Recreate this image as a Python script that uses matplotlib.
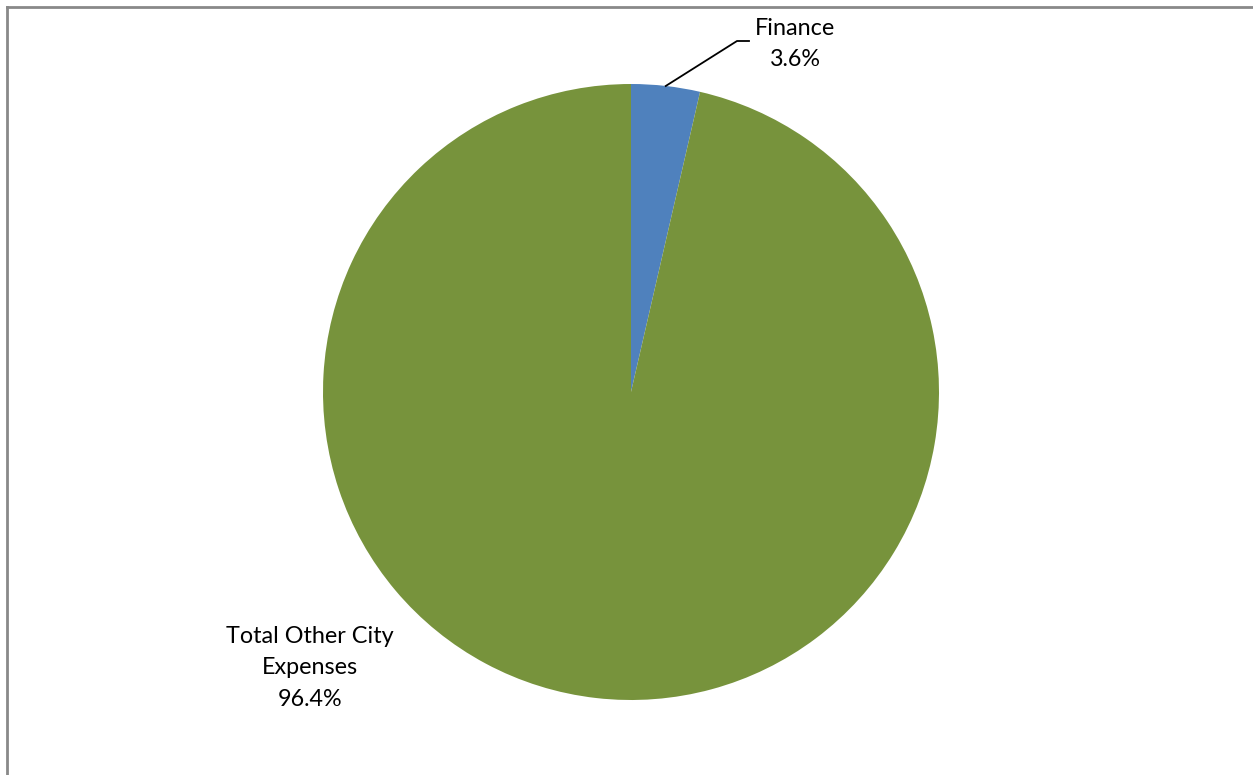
import numpy as np
import matplotlib
matplotlib.use("Agg")
import matplotlib.pyplot as plt
from matplotlib.lines import Line2D

categories = ["Finance", "Total Other City\nExpenses"]
shares = [3.6, 96.4]
colors = ["#4F81BD", "#77933C"]

W, H = 1253, 775
fig = plt.figure(figsize=(W / 100, H / 100), dpi=100)
ax = fig.add_axes([0, 0, 1, 1])
ax.set_xlim(0, W)
ax.set_ylim(0, H)
ax.set_aspect("equal")
ax.axis("off")

cx, cy, r = 631, H - 392, 308
wedges, _ = ax.pie(shares, colors=colors, startangle=90, counterclock=False,
                   center=(cx, cy), radius=r, frame=True,
                   wedgeprops=dict(linewidth=0))
ax.set_xlim(0, W)
ax.set_ylim(0, H)
ax.axis("off")

font = ["Lato", "DejaVu Sans"]
fs = 16.8
ls = 1.62

# Finance label with leader line
mid = np.deg2rad(90 - shares[0] / sum(shares) * 360 / 2)
px, py = cx + r * np.cos(mid), cy + r * np.sin(mid)
ax.plot([px, 737, 749], [py, H - 41, H - 41], color="black", lw=1.3)
ax.text(795, H - 44, f"{categories[0]}\n{shares[0]:.1f}%", ha="center", va="center",
        fontsize=fs, family=font, linespacing=ls)

ax.text(310, H - 668, f"{categories[1]}\n{shares[1]:.1f}%", ha="center", va="center",
        fontsize=fs, family=font, linespacing=ls)

# frame border (left and top visible)
fig.add_artist(Line2D([7 / W, 7 / W], [0, 1 - 7 / H], transform=fig.transFigure,
                      color="#898989", lw=2))
fig.add_artist(Line2D([7 / W, 1], [1 - 7 / H, 1 - 7 / H], transform=fig.transFigure,
                      color="#898989", lw=2))

fig.savefig("out.png", dpi=100)
